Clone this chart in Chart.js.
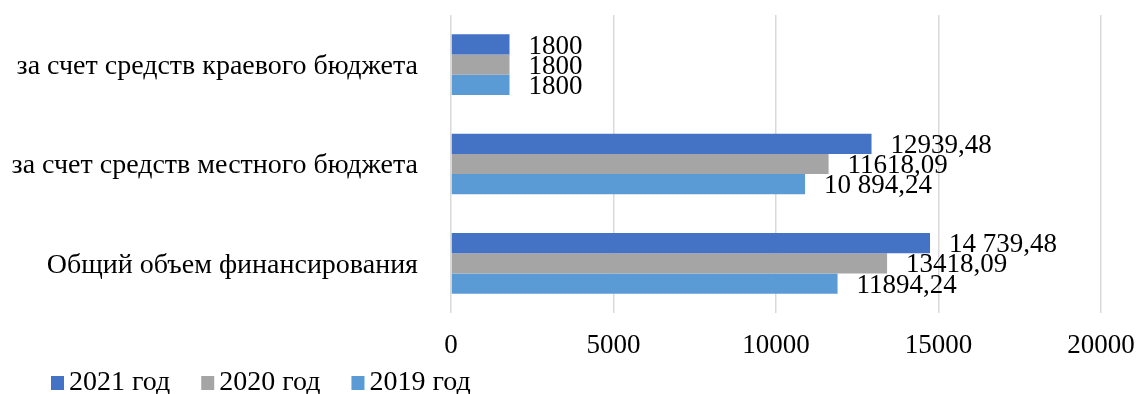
<!DOCTYPE html>
<html>
<head>
<meta charset="utf-8">
<script src="https://cdn.jsdelivr.net/npm/chart.js@4"></script>
<style>
    html, body { margin: 0; padding: 0; background: #fff; }
    #wrap { width: 1140px; height: 394px; }
</style>
</head>
<body>
<div id="wrap"><canvas id="chart" width="1140" height="394"></canvas></div>
<script>
// ==================== DATA ====================
const categories = [
    'за счет средств краевого бюджета',
    'за счет средств местного бюджета',
    'Общий объем финансирования'
];
const seriesNames = ['2021 год', '2020 год', '2019 год'];
const values2021 = [1800, 12939.48, 14739.48];
const values2020 = [1800, 11618.09, 13418.09];
const values2019 = [1800, 10894.24, 11894.24];
const labels2021 = ['1800', '12939,48', '14 739,48'];
const labels2020 = ['1800', '11618,09', '13418,09'];
const labels2019 = ['1800', '10 894,24', '11894,24'];
const xTicks = [0, 5000, 10000, 15000, 20000];

const FONT = 'Liberation Serif';
const colors = ['#4472C4', '#A5A5A5', '#5B9BD5'];
const valueLabels = [labels2021, labels2020, labels2019];

// ==================== VALUE LABELS PLUGIN ====================
const barLabels = {
    id: 'barLabels',
    afterDatasetsDraw(chart) {
        const ctx = chart.ctx;
        ctx.save();
        ctx.font = `27px "${FONT}"`;
        ctx.fillStyle = '#000';
        ctx.textAlign = 'left';
        ctx.textBaseline = 'middle';
        chart.data.datasets.forEach((ds, i) => {
            chart.getDatasetMeta(i).data.forEach((bar, j) => {
                ctx.fillText(valueLabels[i][j], bar.x + 19, bar.y + 2);
            });
        });
        ctx.restore();
    }
};

// ==================== LEGEND PLUGIN ====================
// drawn by hand: the built-in legend spaces items too tightly
const bottomLegend = {
    id: 'bottomLegend',
    afterDraw(chart) {
        const ctx = chart.ctx;
        const y = 383;
        let x = 51;
        ctx.save();
        ctx.font = `28px "${FONT}"`;
        ctx.textAlign = 'left';
        ctx.textBaseline = 'middle';
        chart.data.datasets.forEach(ds => {
            ctx.fillStyle = ds.backgroundColor;
            ctx.fillRect(x, y - 7, 13, 14);
            ctx.fillStyle = '#000';
            ctx.fillText(ds.label, x + 18, y);
            x += 18 + ctx.measureText(ds.label).width + 31;
        });
        ctx.restore();
    }
};

// ==================== CHART ====================
new Chart(document.getElementById('chart'), {
    type: 'bar',
    data: {
        labels: categories,
        datasets: [values2021, values2020, values2019].map((vals, i) => ({
            label: seriesNames[i],
            data: vals,
            backgroundColor: colors[i],
            borderWidth: 0,
            categoryPercentage: 0.61,
            barPercentage: 1
        }))
    },
    options: {
        indexAxis: 'y',
        responsive: false,
        animation: false,
        layout: { padding: { top: 15, right: 39, left: 0, bottom: 34 } },
        plugins: {
            legend: { display: false },
            tooltip: { enabled: false }
        },
        scales: {
            x: {
                min: 0,
                max: 20000,
                afterBuildTicks: axis => { axis.ticks = xTicks.map(v => ({ value: v })); },
                afterFit: axis => {
                    axis.height = 47;
                    axis.paddingLeft = 0;
                    axis.paddingRight = 0;
                },
                ticks: {
                    font: { family: FONT, size: 27 },
                    color: '#000',
                    padding: 17,
                    callback: v => String(v)
                },
                grid: { color: '#d9d9d9', lineWidth: 1.5, drawTicks: false },
                border: { display: false }
            },
            y: {
                afterFit: axis => {
                    axis.width = 451;
                    axis.paddingTop = 0;
                    axis.paddingBottom = 0;
                },
                ticks: {
                    font: { family: FONT, size: 28 },
                    color: '#000',
                    padding: 33,
                    labelOffset: 2
                },
                grid: { display: false, drawTicks: false },
                border: { display: false }
            }
        }
    },
    plugins: [barLabels, bottomLegend]
});
</script>
</body>
</html>
